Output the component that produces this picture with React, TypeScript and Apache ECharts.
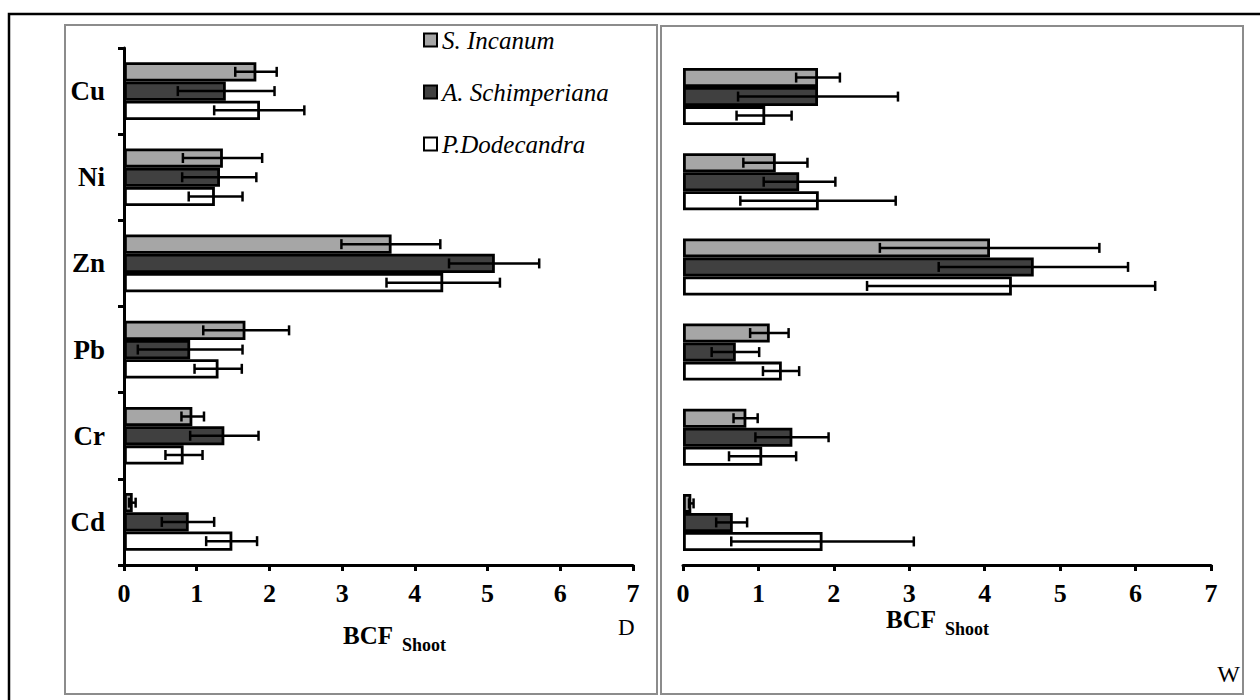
import React, { useEffect, useRef } from "react";
import * as echarts from "echarts";

const categories = ["Cu", "Ni", "Zn", "Pb", "Cr", "Cd"];
const speciesNames = ["S. Incanum", "A. Schimperiana", "P.Dodecandra"];
const speciesColors = ["#a6a6a6", "#404040", "#ffffff"];
const xTickMax = 7;

// Panel D
const dSIncanum = [1.82, 1.36, 3.68, 1.67, 0.94, 0.12];
const dSIncanumLow = [1.53, 0.81, 2.99, 1.09, 0.79, 0.07];
const dSIncanumHigh = [2.1, 1.9, 4.35, 2.27, 1.1, 0.16];
const dASchimperiana = [1.4, 1.32, 5.1, 0.91, 1.38, 0.89];
const dASchimperianaLow = [0.74, 0.8, 4.47, 0.19, 0.91, 0.52];
const dASchimperianaHigh = [2.07, 1.82, 5.71, 1.63, 1.85, 1.24];
const dPDodecandra = [1.87, 1.25, 4.39, 1.3, 0.82, 1.49];
const dPDodecandraLow = [1.24, 0.89, 3.61, 0.97, 0.57, 1.13];
const dPDodecandraHigh = [2.48, 1.63, 5.17, 1.62, 1.08, 1.83];

// Panel W
const wSIncanum = [1.79, 1.23, 4.07, 1.15, 0.84, 0.11];
const wSIncanumLow = [1.5, 0.8, 2.61, 0.89, 0.67, 0.08];
const wSIncanumHigh = [2.08, 1.65, 5.52, 1.4, 0.99, 0.14];
const wASchimperiana = [1.79, 1.54, 4.65, 0.7, 1.45, 0.66];
const wASchimperianaLow = [0.73, 1.07, 3.39, 0.38, 0.96, 0.44];
const wASchimperianaHigh = [2.85, 2.02, 5.9, 1.01, 1.93, 0.85];
const wPDodecandra = [1.09, 1.8, 4.36, 1.31, 1.05, 1.85];
const wPDodecandraLow = [0.71, 0.76, 2.44, 1.06, 0.61, 0.64];
const wPDodecandraHigh = [1.44, 2.82, 6.26, 1.54, 1.5, 3.06];

const SERIF = "Liberation Serif";
const CAT_GAP = 0.33;

function makeBar(name: string, idx: number, grid: number, data: number[]) {
  return {
    type: "bar",
    name,
    xAxisIndex: grid,
    yAxisIndex: grid,
    data,
    barGap: "0%",
    barCategoryGap: "33%",
    itemStyle: { color: speciesColors[idx], borderColor: "#000", borderWidth: 2.8 },
    silent: true,
  };
}

function makeErr(idx: number, grid: number, low: number[], high: number[]) {
  return {
    type: "custom",
    name: "err" + grid + "_" + idx,
    xAxisIndex: grid,
    yAxisIndex: grid,
    data: low.map((l, i) => [i, l, high[i]]),
    encode: { x: [1, 2], y: 0 },
    z: 5,
    silent: true,
    clip: false,
    renderItem: (params: any, api: any) => {
      const cat = api.value(0);
      const lo = api.coord([api.value(1), cat]);
      const hi = api.coord([api.value(2), cat]);
      const band = api.size([0, 1])[1];
      const groupH = band * (1 - CAT_GAP);
      const barH = groupH / 3;
      const y = lo[1] - groupH / 2 + barH * (idx + 0.5);
      const cap = 5;
      const style = { stroke: "#000", lineWidth: 2.5 };
      return {
        type: "group",
        children: [
          { type: "line", shape: { x1: lo[0], y1: y, x2: hi[0], y2: y }, style },
          { type: "line", shape: { x1: lo[0], y1: y - cap, x2: lo[0], y2: y + cap }, style },
          { type: "line", shape: { x1: hi[0], y1: y - cap, x2: hi[0], y2: y + cap }, style },
        ],
      };
    },
  };
}

function xAxisDef(grid: number) {
  return {
    type: "value",
    gridIndex: grid,
    min: 0,
    max: xTickMax,
    interval: 1,
    axisLine: { show: true, lineStyle: { color: "#000", width: 3 } },
    axisTick: { show: true, length: 6, lineStyle: { color: "#000", width: 3 } },
    axisLabel: { color: "#000", fontFamily: SERIF, fontWeight: "bold", fontSize: 26, lineHeight: 20, margin: 18 },
    splitLine: { show: false },
  };
}

export default function App() {
  const ref = useRef<HTMLDivElement>(null);
  useEffect(() => {
    if (!ref.current) return;
    const chart = echarts.init(ref.current, null, { renderer: "svg" });
    const option: any = {
      animation: false,
      backgroundColor: "#fff",
      legend: {
        data: speciesNames,
        orient: "vertical",
        left: 418,
        top: 21,
        itemGap: 24,
        itemWidth: 13,
        itemHeight: 13,
        icon: "rect",
        selectedMode: false,
        textStyle: { fontFamily: SERIF, fontStyle: "italic", fontSize: 25, color: "#000", lineHeight: 28 },
      },
      grid: [
        { left: 124, top: 48, width: 509, height: 517 },
        { left: 683, top: 54, width: 528, height: 511 },
      ],
      xAxis: [xAxisDef(0), xAxisDef(1)],
      yAxis: [
        {
          type: "category",
          gridIndex: 0,
          data: categories,
          inverse: true,
          axisLine: { show: true, lineStyle: { color: "#000", width: 3 } },
          axisTick: { show: true, length: 6, lineStyle: { color: "#000", width: 3 } },
          axisLabel: { color: "#000", fontFamily: SERIF, fontWeight: "bold", fontSize: 27, margin: 19 },
          splitLine: { show: false },
        },
        {
          type: "category",
          gridIndex: 1,
          data: categories,
          inverse: true,
          axisLine: { show: false },
          axisTick: { show: false },
          axisLabel: { show: false },
          splitLine: { show: false },
        },
      ],
      graphic: [
        { type: "polyline", shape: { points: [[9, 700], [9, 14], [1260, 14]] }, style: { stroke: "#000", lineWidth: 2.5, fill: null } },
        { type: "rect", shape: { x: 65, y: 25, width: 592, height: 669 }, style: { stroke: "#8c8c8c", lineWidth: 2, fill: null }, z: -1 },
        { type: "rect", shape: { x: 661, y: 26, width: 582, height: 668 }, style: { stroke: "#8c8c8c", lineWidth: 2, fill: null }, z: -1 },
        { type: "text", x: 343, y: 635, style: { text: "BCF", font: "bold 25px " + SERIF, fill: "#000", verticalAlign: "middle" } },
        { type: "text", x: 402, y: 645, style: { text: "Shoot", font: "bold 18px " + SERIF, fill: "#000", verticalAlign: "middle" } },
        { type: "text", x: 618, y: 627, style: { text: "D", font: "23px " + SERIF, fill: "#000", verticalAlign: "middle" } },
        { type: "text", x: 886, y: 619, style: { text: "BCF", font: "bold 25px " + SERIF, fill: "#000", verticalAlign: "middle" } },
        { type: "text", x: 945, y: 629, style: { text: "Shoot", font: "bold 18px " + SERIF, fill: "#000", verticalAlign: "middle" } },
        { type: "text", x: 1240, y: 674, style: { text: "W", font: "24px " + SERIF, fill: "#000", verticalAlign: "middle", align: "right" } },
      ],
      series: [
        makeBar(speciesNames[0], 0, 0, dSIncanum),
        makeBar(speciesNames[1], 1, 0, dASchimperiana),
        makeBar(speciesNames[2], 2, 0, dPDodecandra),
        makeBar(speciesNames[0], 0, 1, wSIncanum),
        makeBar(speciesNames[1], 1, 1, wASchimperiana),
        makeBar(speciesNames[2], 2, 1, wPDodecandra),
        makeErr(0, 0, dSIncanumLow, dSIncanumHigh),
        makeErr(1, 0, dASchimperianaLow, dASchimperianaHigh),
        makeErr(2, 0, dPDodecandraLow, dPDodecandraHigh),
        makeErr(0, 1, wSIncanumLow, wSIncanumHigh),
        makeErr(1, 1, wASchimperianaLow, wASchimperianaHigh),
        makeErr(2, 1, wPDodecandraLow, wPDodecandraHigh),
      ],
    };
    chart.setOption(option);
    return () => chart.dispose();
  }, []);
  return <div ref={ref} style={{ position: "absolute", left: 0, top: 0, width: 1260, height: 700 }} />;
}
